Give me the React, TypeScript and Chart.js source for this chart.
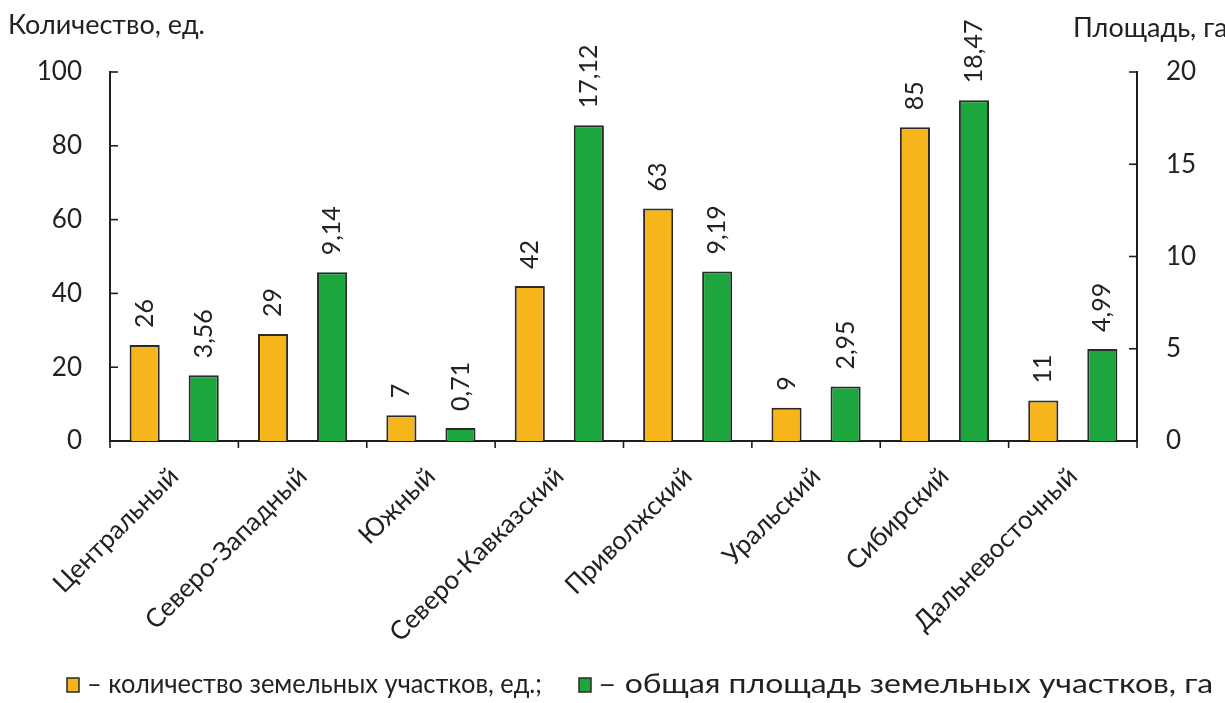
import React, { useEffect, useRef } from "react";
import { Chart, registerables } from "chart.js";

Chart.register(...registerables);

const categories = [
  "Центральный",
  "Северо-Западный",
  "Южный",
  "Северо-Кавказский",
  "Приволжский",
  "Уральский",
  "Сибирский",
  "Дальневосточный",
];
const plotCounts = [26, 29, 7, 42, 63, 9, 85, 11];
const plotAreas = [3.56, 9.14, 0.71, 17.12, 9.19, 2.95, 18.47, 4.99];
const leftAxisRange = [0, 100];
const leftAxisStep = 20;
const rightAxisRange = [0, 20];
const rightAxisStep = 5;
const leftTitle = "Количество, ед.";
const rightTitle = "Площадь, га";
const legendLabels = [
  "– количество земельных участков, ед.;",
  "– общая площадь земельных участков, га",
];

const FONT = "Lato, 'Open Sans', sans-serif";
const TEXT = "#222222";
const AXIS = "#1e1e1e";
const ORANGE = "#F7B51C";
const GREEN = "#1DA63D";
const BORDER = "#2a2a2a";

const fmtCount = (v: number) => String(v);
const fmtArea = (v: number) => v.toFixed(2).replace(".", ",");

const overlay = {
  id: "overlay",
  afterDatasetsDraw(chart: any) {
    const ctx: CanvasRenderingContext2D = chart.ctx;
    const { left, right, bottom } = chart.chartArea;
    const ys = chart.scales.y;
    const y1s = chart.scales.y1;
    const xs = chart.scales.x;
    ctx.save();
    ctx.strokeStyle = AXIS;
    ctx.lineWidth = 1.6;
    const line = (a: number, b: number, c: number, d: number) => {
      ctx.beginPath();
      ctx.moveTo(a, b);
      ctx.lineTo(c, d);
      ctx.stroke();
    };
    ys.ticks.forEach((t: any) => {
      const py = ys.getPixelForValue(t.value);
      line(left, py, left + 8, py);
    });
    y1s.ticks.forEach((t: any) => {
      const py = y1s.getPixelForValue(t.value);
      line(right - 8, py, right, py);
    });
    const n = categories.length;
    for (let i = 0; i <= n; i++) {
      let bx: number;
      if (i === 0) bx = left;
      else if (i === n) bx = right;
      else bx = (xs.getPixelForValue(i - 1) + xs.getPixelForValue(i)) / 2;
      line(bx, bottom, bx, bottom + 7);
    }

    // data labels
    ctx.fillStyle = TEXT;
    ctx.font = `25px ${FONT}`;
    chart.data.datasets.forEach((ds: any, di: number) => {
      const meta = chart.getDatasetMeta(di);
      meta.data.forEach((bar: any, i: number) => {
        const v = ds.data[i];
        const txt = di === 0 ? fmtCount(v) : fmtArea(v);
        ctx.save();
        ctx.translate(bar.x, bar.y - 17);
        ctx.rotate(-Math.PI / 2);
        ctx.textAlign = "left";
        ctx.textBaseline = "middle";
        ctx.fillText(txt, 0, 0);
        ctx.restore();
      });
    });

    // axis titles
    ctx.font = `27px ${FONT}`;
    ctx.textBaseline = "alphabetic";
    ctx.textAlign = "left";
    ctx.fillText(leftTitle, 8, 34);
    ctx.fillText(rightTitle, 1073, 37);

    // legend
    const ly = 685;
    const items = [
      { color: ORANGE, x: 67, tx: 87, end: 542, text: legendLabels[0] },
      { color: GREEN, x: 579, tx: 598, end: 1213, text: legendLabels[1] },
    ];
    ctx.font = `26px ${FONT}`;
    ctx.textBaseline = "middle";
    items.forEach((it) => {
      ctx.fillStyle = it.color;
      ctx.fillRect(it.x, ly - 7, 12, 14);
      ctx.strokeStyle = BORDER;
      ctx.lineWidth = 1.5;
      ctx.strokeRect(it.x, ly - 7, 12, 14);
      ctx.fillStyle = TEXT;
      const w = ctx.measureText(it.text).width;
      const sx = (it.end - it.tx) / w;
      ctx.save();
      ctx.translate(it.tx, ly);
      ctx.scale(sx, 1);
      ctx.fillText(it.text, 0, 0);
      ctx.restore();
    });
    ctx.restore();
  },
};

export default function App() {
  const ref = useRef<HTMLCanvasElement | null>(null);
  useEffect(() => {
    if (!ref.current) return;
    Chart.defaults.font.family = FONT;
    const chart = new Chart(ref.current, {
      type: "bar",
      data: {
        labels: categories,
        datasets: [
          {
            label: legendLabels[0],
            data: plotCounts,
            backgroundColor: ORANGE,
            borderColor: BORDER,
            borderWidth: 2,
            yAxisID: "y",
            categoryPercentage: 0.92,
            barPercentage: 0.51,
          },
          {
            label: legendLabels[1],
            data: plotAreas,
            backgroundColor: GREEN,
            borderColor: BORDER,
            borderWidth: 2,
            yAxisID: "y1",
            categoryPercentage: 0.92,
            barPercentage: 0.51,
          },
        ],
      },
      options: {
        responsive: false,
        animation: false,
        layout: { padding: { top: 72, left: 0, right: 0, bottom: 0 } },
        plugins: {
          legend: { display: false },
          tooltip: { enabled: false },
        },
        scales: {
          x: {
            offset: true,
            grid: { display: false, drawTicks: false },
            border: { display: true, color: AXIS, width: 2 },
            ticks: {
              autoSkip: false,
              minRotation: 45,
              maxRotation: 45,
              padding: 20,
              color: TEXT,
              font: { size: 26, family: FONT },
            },
            afterFit: (s: any) => {
              s.height = 262;
            },
          },
          y: {
            position: "left",
            min: leftAxisRange[0],
            max: leftAxisRange[1],
            grid: { display: false, drawTicks: false },
            border: { display: true, color: AXIS, width: 2 },
            ticks: {
              stepSize: leftAxisStep,
              padding: 28,
              color: TEXT,
              font: { size: 26, family: FONT },
            },
            afterFit: (s: any) => {
              s.width = 110;
            },
          },
          y1: {
            position: "right",
            min: rightAxisRange[0],
            max: rightAxisRange[1],
            grid: { display: false, drawTicks: false },
            border: { display: true, color: AXIS, width: 2 },
            ticks: {
              stepSize: rightAxisStep,
              padding: 29,
              color: TEXT,
              font: { size: 26, family: FONT },
            },
            afterFit: (s: any) => {
              s.width = 88;
            },
          },
        },
      },
      plugins: [overlay],
    });
    return () => chart.destroy();
  }, []);
  return (
    <div
      style={{
        position: "absolute",
        left: 0,
        top: 0,
        width: 1225,
        height: 703,
        background: "#fff",
      }}
    >
      <canvas ref={ref} width={1225} height={703} style={{ display: "block" }} />
    </div>
  );
}
